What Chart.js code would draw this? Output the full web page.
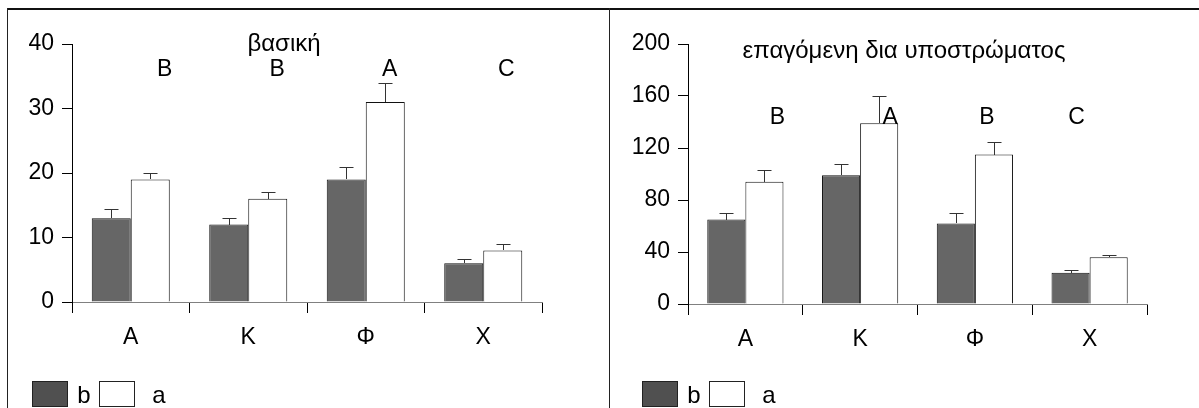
<!DOCTYPE html>
<html>
<head>
<meta charset="utf-8">
<script src="https://cdn.jsdelivr.net/npm/chart.js@4.4.1/dist/chart.umd.min.js"></script>
<style>
  html, body { margin: 0; padding: 0; background: #fff; }
  #wrap { position: relative; width: 1199px; height: 408px; overflow: hidden; background: #fff; }
  .box { position: absolute; top: 0; height: 408px; }
  #frameTop { position: absolute; left: 7px; top: 8px; width: 1192px; height: 2px; background: #111; }
  #frameLeft { position: absolute; left: 7px; top: 8px; width: 1px; height: 400px; background: #222; }
  #frameMid { position: absolute; left: 609px; top: 8px; width: 1px; height: 400px; background: #222; }
</style>
</head>
<body>
<div id="wrap">
  <div class="box" style="left:0;width:609px"><canvas id="basal" width="609" height="408"></canvas></div>
  <div class="box" style="left:609px;width:590px"><canvas id="induced" width="590" height="408"></canvas></div>
  <div id="frameTop"></div>
  <div id="frameLeft"></div>
  <div id="frameMid"></div>
</div>
<script>
// Categories on the x axis
const categories = ['Α', 'Κ', 'Φ', 'Χ'];
const seriesNames = ['b', 'a'];

// Basal activity: means and standard errors
const basalB = [13, 12, 19, 6];
const basalA = [19, 16, 31, 8];
const basalBErr = [1.4, 1.1, 2.0, 0.6];
const basalAErr = [1.0, 1.1, 3.0, 1.0];
const basalLetters = ['B', 'B', 'A', 'C'];
const basalTicks = { max: 40, step: 10 };

// Substrate-induced activity: means and standard errors
const inducedB = [65, 99, 62, 24];
const inducedA = [94, 139, 115, 36];
const inducedBErr = [5, 9, 8, 2];
const inducedAErr = [9, 21, 10, 2];
const inducedLetters = ['B', 'A', 'B', 'C'];
const inducedTicks = { max: 200, step: 40 };

const FONT = '"Liberation Sans", Arial, sans-serif';
const darkFill = '#666666';
const lightFill = '#ffffff';

// Upward-only error bars with a short cap
const errorBars = {
  id: 'errorBars',
  afterDatasetsDraw(chart) {
    const { ctx } = chart;
    const y = chart.scales.y;
    ctx.save();
    ctx.strokeStyle = '#333';
    ctx.lineWidth = 1;
    chart.data.datasets.forEach((ds, di) => {
      const meta = chart.getDatasetMeta(di);
      meta.data.forEach((bar, i) => {
        const x = Math.round(bar.x) + 0.5;
        const top = Math.round(y.getPixelForValue(ds.data[i] + ds.errors[i])) + 0.5;
        const base = Math.round(bar.y);
        ctx.beginPath();
        ctx.moveTo(x, base);
        ctx.lineTo(x, top);
        ctx.moveTo(x - 7, top);
        ctx.lineTo(x + 7, top);
        ctx.stroke();
      });
    });
    ctx.restore();
  }
};

// Panel heading, significance letters and the legend
const decorations = {
  id: 'decorations',
  afterDraw(chart, args, o) {
    const { ctx } = chart;
    const x = chart.scales.x;
    ctx.save();
    ctx.fillStyle = '#000';
    ctx.textAlign = 'center';
    ctx.textBaseline = 'alphabetic';
    ctx.font = `${o.titleSize}px ${FONT}`;
    ctx.fillText(o.title, o.titleX, o.titleY);

    ctx.font = `${o.letterSize}px ${FONT}`;
    ctx.textBaseline = 'middle';
    o.letters.forEach((t, i) => {
      ctx.fillText(t, x.getPixelForValue(i) + o.letterOffsets[i], o.letterY);
    });

    // legend
    const lx = o.legendX, ly = 381, bw = 36, bh = 25;
    const fills = ['#505050', '#ffffff'];
    ctx.textBaseline = 'alphabetic';
    ctx.font = `${o.legendSize}px ${FONT}`;
    chart.data.datasets.forEach((ds, di) => {
      const bx = lx + di * 67;
      ctx.fillStyle = fills[di];
      ctx.fillRect(bx, ly, bw, bh);
      ctx.strokeStyle = '#222';
      ctx.lineWidth = 1;
      ctx.strokeRect(bx + 0.5, ly + 0.5, bw - 1, bh);
      ctx.fillStyle = '#000';
      ctx.fillText(ds.label, bx + bw + (di === 0 ? 16 : 24), 403);
    });
    ctx.restore();
  }
};

function makePanel(id, bVals, aVals, bErr, aErr, ticks, geom, deco) {
  return new Chart(document.getElementById(id), {
    type: 'bar',
    data: {
      labels: categories,
      datasets: [
        { label: seriesNames[0], data: bVals, errors: bErr, backgroundColor: darkFill,
          borderColor: '#111', borderWidth: 1 },
        { label: seriesNames[1], data: aVals, errors: aErr, backgroundColor: lightFill,
          borderColor: '#111', borderWidth: 1 }
      ]
    },
    options: {
      responsive: false,
      animation: false,
      devicePixelRatio: 1,
      categoryPercentage: 0.664,
      barPercentage: 1.0,
      layout: { padding: { top: geom.top, right: geom.right, left: 0, bottom: 0 } },
      plugins: {
        legend: { display: false },
        tooltip: { enabled: false },
        decorations: deco
      },
      scales: {
        x: {
          grid: { display: true, drawOnChartArea: false, offset: true, tickLength: 11,
                  color: '#000', lineWidth: 1 },
          border: { display: true, color: '#808080', width: 1 },
          ticks: { color: '#000', padding: 11, font: { family: FONT, size: 23 } },
          afterFit(s) { s.height = geom.xHeight; }
        },
        y: {
          min: 0, max: ticks.max,
          grid: { display: true, drawOnChartArea: false, tickLength: 10, color: '#000', lineWidth: 1 },
          border: { display: true, color: '#000', width: 1 },
          ticks: { stepSize: ticks.step, color: '#000', padding: 8, font: { family: FONT, size: 23 } },
          afterFit(s) { s.width = geom.yWidth; }
        }
      }
    },
    plugins: [errorBars, decorations]
  });
}

makePanel('basal', basalB, basalA, basalBErr, basalAErr, basalTicks,
  { top: 44, right: 67, xHeight: 106, yWidth: 72 },
  { title: 'βασική', titleX: 284, titleY: 51, titleSize: 24,
    letters: basalLetters, letterOffsets: [34, 29, 24, 23], letterY: 70, letterSize: 23,
    legendX: 32, legendSize: 24 });

makePanel('induced', inducedB, inducedA, inducedBErr, inducedAErr, inducedTicks,
  { top: 44, right: 52, xHeight: 104, yWidth: 79 },
  { title: 'επαγόμενη δια υποστρώματος', titleX: 295, titleY: 58, titleSize: 24,
    letters: inducedLetters, letterOffsets: [32, 30, 12, -13], letterY: 118, letterSize: 23,
    legendX: 33, legendSize: 24 });
</script>
</body>
</html>
